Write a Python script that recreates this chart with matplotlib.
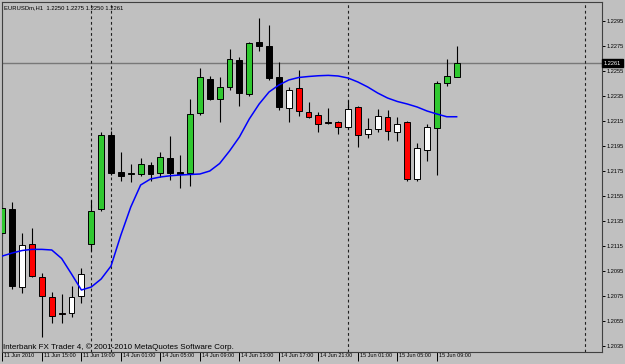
import matplotlib
matplotlib.use("Agg")
import matplotlib.pyplot as plt
from matplotlib.transforms import ScaledTranslation

# -------------------- Data (EURUSDm, H1) --------------------
opens = [1.21249, 1.21441, 1.20822, 1.21164, 1.20902, 1.20742, 1.20612, 1.20616, 1.20752, 1.21164,
         1.21441, 1.22036, 1.21742, 1.21725, 1.21721, 1.21796, 1.21729, 1.21854, 1.21742, 1.21729,
         1.22214, 1.22486, 1.22324, 1.22420, 1.22636, 1.22366, 1.22777, 1.22748, 1.22497, 1.22249,
         1.22409, 1.22222, 1.22196, 1.22142, 1.22137, 1.22097, 1.22256, 1.22044, 1.22081, 1.22177,
         1.22062, 1.22137, 1.21681, 1.21916, 1.22096, 1.22454, 1.2250]
highs = [1.21512, 1.21504, 1.21252, 1.21294, 1.20934, 1.20780, 1.20764, 1.20832, 1.20972, 1.21516,
         1.22062, 1.22072, 1.21897, 1.21802, 1.21854, 1.21820, 1.21900, 1.22028, 1.21880, 1.22321,
         1.22569, 1.22508, 1.22497, 1.22721, 1.22662, 1.22777, 1.22969, 1.22916, 1.22622, 1.22420,
         1.22556, 1.22298, 1.22218, 1.22254, 1.22150, 1.22313, 1.22272, 1.22176, 1.22241, 1.22233,
         1.22180, 1.22149, 1.21969, 1.22126, 1.22472, 1.22644, 1.2275]
lows = [1.21228, 1.20804, 1.20769, 1.20897, 1.20422, 1.20534, 1.20534, 1.20584, 1.20694, 1.21108,
        1.21428, 1.21716, 1.21668, 1.21660, 1.21710, 1.21668, 1.21700, 1.21676, 1.21609, 1.21628,
        1.22196, 1.22316, 1.22137, 1.22398, 1.22265, 1.22350, 1.22710, 1.22476, 1.22236, 1.22140,
        1.22188, 1.22172, 1.22060, 1.22122, 1.22041, 1.22088, 1.21942, 1.22009, 1.22062, 1.21998,
        1.21990, 1.21670, 1.21666, 1.21825, 1.21718, 1.22430, 1.2250]
closes = [1.21449, 1.20830, 1.21156, 1.20908, 1.20750, 1.20588, 1.20606, 1.20742, 1.20921, 1.21430,
          1.22036, 1.21732, 1.21710, 1.21733, 1.21801, 1.21721, 1.21862, 1.21733, 1.21721, 1.22204,
          1.22497, 1.22324, 1.22417, 1.22644, 1.22374, 1.22769, 1.22749, 1.22494, 1.22262, 1.22396,
          1.22229, 1.22182, 1.22124, 1.22134, 1.22102, 1.22241, 1.22036, 1.22086, 1.22188, 1.22070,
          1.22124, 1.21681, 1.21929, 1.22096, 1.22449, 1.22508, 1.2261]
# indicator state per bar (U = trend up, D = trend down)
regime = "UUDDDDDDDUUUUUUUUUUUUUUUUUUUUDDDDDDDDDDDDDDDUUU"
ma = [1.21068, 1.21092, 1.21112, 1.21121, 1.21121, 1.21116, 1.21048, 1.20924, 1.20796, 1.20820,
      1.20884, 1.20988, 1.21236, 1.21460, 1.21636, 1.21684, 1.21700, 1.21710, 1.21716, 1.21720,
      1.21724, 1.21748, 1.21808, 1.21908, 1.22020, 1.22164, 1.22284, 1.22380, 1.22436, 1.22476,
      1.22496, 1.22504, 1.22510, 1.22513, 1.22508, 1.22492, 1.22460, 1.22420, 1.22372, 1.22332,
      1.22304, 1.22284, 1.22260, 1.22228, 1.22204, 1.22182, 1.22182]

symbol = "EURUSDm,H1"
last_price = 1.2261
separators = [9, 11, 35, 59]
tick_bars = [0, 4, 8, 12, 16, 20, 24, 28, 32, 36, 40, 44]
tick_labels = ["11 Jun 2010", "11 Jun 15:00", "11 Jun 19:00", "14 Jun 01:00", "14 Jun 05:00",
               "14 Jun 09:00", "14 Jun 13:00", "14 Jun 17:00", "14 Jun 21:00", "15 Jun 01:00",
               "15 Jun 05:00", "15 Jun 09:00"]
price_ticks = [1.2035, 1.2055, 1.2075, 1.2095, 1.2115, 1.2135, 1.2155, 1.2175, 1.2195,
               1.2215, 1.2235, 1.2255, 1.2275, 1.2295]

# -------------------- Figure --------------------
bg = "#c0c0c0"
plt.rcParams['font.family'] = ['Liberation Sans', 'DejaVu Sans']
fig = plt.figure(figsize=(6.25, 3.64), dpi=100, facecolor=bg)
ax = fig.add_axes([2 / 625, 12 / 364, 600 / 625, 350 / 364], facecolor=bg)

x = list(range(len(closes)))
colors = {("U", True): "#30c830", ("U", False): "#000000",
          ("D", True): "#ffffff", ("D", False): "#ff0000"}

ax.axhline(last_price, color="#787878", lw=1.0, zorder=1)
for s in separators:
    ax.axvline(s, color="#202020", lw=0.8, linestyle=(0, (2.5, 2.5)), zorder=1)

ax.vlines(x, lows, highs, color="black", lw=0.8, zorder=2)
for i in x:
    up = closes[i] >= opens[i]
    lo, hi = min(opens[i], closes[i]), max(opens[i], closes[i])
    ax.bar(i, max(hi - lo, 0.00001), bottom=lo, width=0.6,
           color=colors[(regime[i], up)], edgecolor="black", linewidth=0.7, zorder=3)

ax.plot(x, ma, color="#0000ff", lw=1.1, zorder=4)

ax.set_xlim(-0.04, 60.72)
ax.set_ylim(1.2030, 1.2310)

# -------------------- Axes styling --------------------
for sp in ax.spines.values():
    sp.set_color("#404040")
    sp.set_linewidth(0.8)

ax.yaxis.tick_right()
ax.set_yticks(price_ticks, [f"{p:.4f}" for p in price_ticks])
ax.tick_params(axis="y", length=2, width=0.7, pad=1, labelsize=4.1, colors="black")

ax.set_xticks(tick_bars, tick_labels)
ax.tick_params(axis="x", length=6.5, width=0.7, pad=-5.5, labelsize=4.0, colors="black")
for lbl in ax.get_xticklabels():
    lbl.set_horizontalalignment("left")
    lbl.set_transform(lbl.get_transform() + ScaledTranslation(2 / 100, 0, fig.dpi_scale_trans))

# current price marker
ax.text(1.003, last_price, f"{last_price:.4f}", transform=ax.get_yaxis_transform(),
        fontsize=4.1, color="white", va="center", ha="left", clip_on=False, zorder=5,
        bbox=dict(boxstyle="square,pad=0.3", fc="black", ec="black"))

ax.text(0.004, 0.992, f"{symbol}  {opens[-1]:.4f} {highs[-1]:.4f} {lows[-1]:.4f} {closes[-1]:.4f}",
        transform=ax.transAxes, fontsize=4.2, va="top", ha="left")
ax.text(0.002, 0.004, "Interbank FX Trader 4, \u00a9 2001-2010 MetaQuotes Software Corp.",
        transform=ax.transAxes, fontsize=5.8, va="bottom", ha="left")

fig.savefig("out.png", dpi=100, facecolor=bg)
